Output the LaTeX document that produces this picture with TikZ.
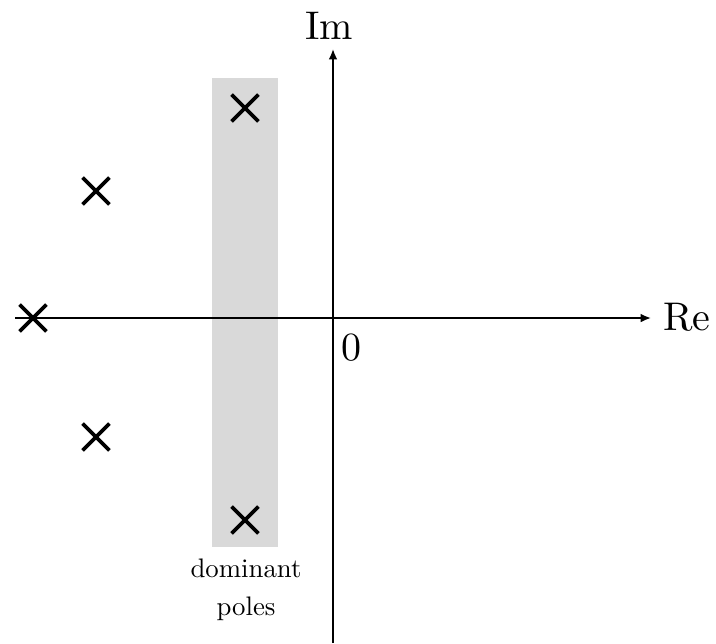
\documentclass[tikz,border=0pt]{standalone}
\usepackage{amsmath}
\usetikzlibrary{arrows.meta, shapes.misc}

\begin{document}
\begin{tikzpicture}[x=0.25pt, y=-0.25pt,
		pole/.style={draw, cross out, minimum size=5.8pt, inner sep=0pt, line width=0.9pt},
		axis/.style={-{Latex[length=2.6pt, width=2.2pt]}, line width=0.45pt},
		band/.style={fill=gray!30, draw=none},
		]
		\useasboundingbox (0,0) rectangle (716,643);
		
		%% ── ОБЛАСТЬ ДОМИНИРУЮЩИХ ПОЛЮСОВ ─────────────────────
		\fill[band] (212,78) rectangle (278,547);
		
		%% ── ОСИ ──────────────────────────────────────────────
		\coordinate (reL) at (15,318);
		\coordinate (reR) at (651,318);
		\coordinate (imB) at (333,643);
		\coordinate (imT) at (333,49);
		\draw[axis] (reL) -- (reR);
		\draw[axis] (imB) -- (imT);
		\node (reLab) at (687,317) {Re};
		\node (imLab) at (329,26) {Im};
		\node (zero) at (351,348) {$0$};
		
		%% ── ПОЛЮСЫ ───────────────────────────────────────────
		\node[pole] (p1) at (245,108) {};
		\node[pole] (p2) at (245,520) {};
		\node[pole] (p3) at (96,191) {};
		\node[pole] (p4) at (96,437) {};
		\node[pole] (p5) at (33,318) {};
		
		% подпись
		\node[align=center, scale=0.67, inner sep=0pt] (domLab) at (246,590) {dominant\\[2pt]poles};
		
	\end{tikzpicture}
\end{document}
